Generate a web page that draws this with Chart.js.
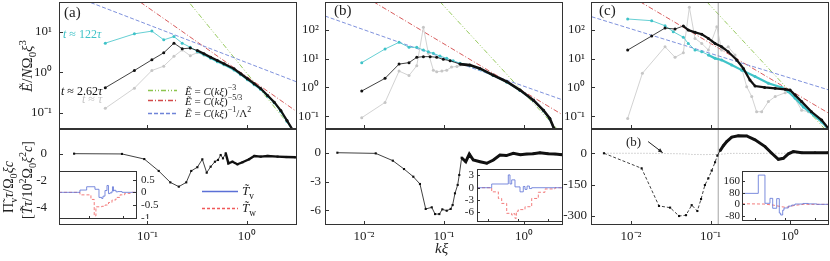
<!DOCTYPE html>
<html>
<head>
<meta charset="utf-8">
<script src="https://cdn.jsdelivr.net/npm/chart.js@4.4.0/dist/chart.umd.min.js"></script>
<style>
  body { margin:0; background:#fff; font-family:"Liberation Serif","DejaVu Serif",serif; }
  #fig { position:relative; width:830px; height:261px; overflow:hidden; }
  #fig canvas { position:absolute; }
  .lbl { position:absolute; white-space:nowrap; font-size:11px; color:#222; line-height:1; }
  .rot { position:absolute; white-space:nowrap; font-size:15px; color:#222; line-height:1; transform:translate(-50%,-50%) rotate(-90deg); }
  sub, sup { font-size:72%; line-height:0; }
</style>
</head>
<body>
<div id="fig"></div>
<script>
// spectra, panel (a)   x = k xi
var kA = [0.0377,0.074,0.111,0.146,0.185,0.224,0.27,0.318,0.371,0.433,0.506,0.59,0.745,0.869,1.016,1.186,1.38,1.62,1.89,2.2,2.54,2.9];
var EA_cyan  = [5.3,9.0,10.5,6.4,7.7,5.3,4.2,3.3,2.75,2.25,1.85,1.55,1.15,0.88,0.66,0.5,0.38,0.26,0.18,0.11,0.062,0.037];
var EA_black = [0.42,1.12,2.06,3.06,5.3,3.85,4.0,3.5,2.9,2.39,1.98,1.64,1.23,0.93,0.70,0.53,0.40,0.27,0.185,0.115,0.065,0.038];
var EA_gray  = [0.13,0.41,1.12,1.43,2.5,3.6,2.6,3.1,2.7,2.3,1.9,1.6,1.2,0.9,0.68,0.52,0.39,0.26,0.18,0.11,0.063,0.037];

// spectra, panel (b)
var kB_black = [0.00936,0.0183,0.0274,0.0365,0.0456,0.0552,0.067,0.081,0.098,0.119,0.158,0.21,0.28,0.41,0.61,0.89,1.31,1.75,2.1,2.37];
var EB_black = [0.75,2.07,6.5,7.3,11.2,11.8,11.8,11.2,9.5,8.5,6.5,6.0,4.6,2.7,1.58,0.81,0.36,0.16,0.083,0.037];
var kB_cyan = [0.00936,0.0183,0.0274,0.0365,0.0456,0.0552,0.0637,0.0735,0.089,0.108,0.13,0.158,0.21,0.28,0.41,0.61,0.89,1.31,1.75,2.1,2.37];
var EB_cyan = [7.3,21.8,37.3,25,25,20,17.5,15.4,12.4,10.3,8.5,7.0,5.8,4.4,2.6,1.5,0.78,0.35,0.155,0.08,0.036];
var kB_gray = [0.00936,0.0183,0.0274,0.0365,0.0456,0.0552,0.0637,0.0735,0.081,0.094,0.108,0.124,0.145,0.19,0.28,0.41,0.61,0.89,1.31,1.75,2.1,2.37];
var EB_gray = [0.088,0.30,3.7,2.6,5.7,124,15.4,4.0,3.5,3.7,4.0,5.1,5.4,6.0,4.5,2.65,1.55,0.8,0.35,0.16,0.08,0.036];

// spectra, panel (c)
var kC_black = [0.00908,0.0182,0.0268,0.0358,0.0455,0.0525,0.0638,0.0776,0.094,0.114,0.138,0.167,0.214,0.259,0.313,0.363,0.48,0.65,0.87,1.0,1.16,1.4,1.86,2.5,3.09];
var EC_black = [20,62,117,108,138,100,83,71,51,34,26,17.5,9.0,4.6,1.81,1.12,1.0,0.93,0.86,0.81,0.54,0.32,0.142,0.073,0.035];
var kC_cyan = [0.00908,0.0182,0.0268,0.034,0.0455,0.0525,0.0638,0.0776,0.094,0.114,0.138,0.185,0.247,0.363,0.534,0.787,0.953,1.16,1.47,1.97,2.5,3.0];
var EC_cyan = [242,211,141,87,56,34,20,17.5,13.5,10.3,9.0,6.0,4.0,2.4,1.39,1.0,0.71,0.42,0.21,0.11,0.063,0.037];
var kC_gray = [0.00908,0.0139,0.0268,0.0358,0.0455,0.0542,0.0638,0.0776,0.094,0.12,0.138,0.167,0.203,0.247,0.285,0.33,0.38,0.44,0.534,0.65,0.87,1.0,1.4,1.7,2.2,2.8];
var EC_gray = [0.083,3.1,26,11.2,16,617,51,34,20,130,20,26,13.5,4.6,1.06,0.48,0.142,0.142,0.32,0.48,0.65,0.81,0.16,0.142,0.09,0.045];
var kMark = 0.125;   // grey vertical marker in (c)

// power-law guides (end points)
var guideA_k1 = [0.0237,3.27], guideA_E1 = [60,0.57];
var guideA_k53 = [0.085,3.27], guideA_E53 = [54.4,0.103];
var guideA_k3 = [0.27,2.9],    guideA_E3 = [49.7,0.039];
var guideB_k1 = [0.00325,3.07], guideB_E1 = [307,0.364];
var guideB_k53 = [0.0131,3.07], guideB_E53 = [968,0.109];
var guideB_k3 = [0.089,2.56],   guideB_E3 = [968,0.037];
var guideC_k1 = [0.0032,3.1],  guideC_E1 = [290,0.81];
var guideC_k53 = [0.013,3.35], guideC_E53 = [968,0.109];
var guideC_k3 = [0.0896,2.7],  guideC_E3 = [968,0.037];

// flux Pi_v
var kA_pi = [0.0183,0.0555,0.093,0.13,0.17,0.207,0.246,0.276,0.318,0.357,0.395,0.433,0.478,0.513,0.546,0.576,0.614,0.653,0.717,0.805,0.905,1.055,1.19,1.38,1.62,2.04,2.5,3.1];
var PA = [0,-0.02,-0.4,-1.29,-2.14,-2.46,-2.14,-1.29,-1.01,-0.42,-1.42,-0.97,-0.6,-0.47,-0.1,-0.35,0.03,-0.72,-0.6,-0.79,-0.64,-0.42,-0.17,-0.22,-0.17,-0.22,-0.25,-0.27];
var kB_pi = [0.00464,0.014,0.0229,0.0316,0.0413,0.05,0.059,0.0702,0.0772,0.0873,0.0952,0.108,0.121,0.128,0.137,0.148,0.155,0.166,0.187,0.207,0.232,0.282,0.342,0.414,0.5,0.6,0.735,0.9,1.08,1.3,1.58,2.0,2.44,3.0];
var PB = [0,-0.07,-0.83,-1.7,-2.5,-3.26,-5.86,-5.69,-6.39,-6.39,-5.9,-6.04,-5.86,-5.45,-4.23,-3.36,-2.32,-0.52,-0.94,-0.14,-0.76,-0.94,-1.1,-0.76,-0.24,-0.3,-0.06,-0.2,-0.14,-0.1,0,-0.1,-0.14,-0.2];
var kC_pi = [0.00457,0.0136,0.0225,0.031,0.0402,0.0492,0.058,0.0683,0.076,0.085,0.0938,0.1035,0.114,0.122,0.132,0.145,0.16,0.185,0.224,0.285,0.363,0.485,0.589,0.713,0.824,0.953,1.1,1.4,2.06,3.0];
var PC = [0,-72,-252,-260,-300,-296,-248,-276,-219,-152,-120,-83,-43,-11,12,36,56,77,84,83,64,32,0,-29,-24,-3,8,3,3,3];

// insets: transfer T_v (steps) and T_w
var kIA_v = [0.0129,0.0533,0.0839,0.147,0.193,0.232,0.253,0.29,0.332,0.367,0.406,0.466,0.481,0.515,0.532,0.609,0.698,0.916,2.53];
var TIA_v = [0,0.09,0.22,0.12,-0.2,-0.24,-0.15,0.07,0.27,-0.05,-0.02,0.05,0.22,0.05,0.08,0.02,0.03,0,0];
var kIA_w = [0.0129,0.0533,0.112,0.14,0.157,0.232,0.29,0.367,0.466,0.609,0.8,1.1,1.6,2.53];
var TIA_w = [0,-0.1,-0.28,-0.93,-0.57,-0.55,-0.5,-0.4,-0.3,-0.2,-0.1,-0.04,0,0];
var kIB_v = [0.0043,0.01328,0.0475,0.0541,0.0616,0.0794,0.1166,0.15,0.171,0.2,0.24,0.286,3.16];
var TIB_v = [0,0.9,3.1,0.9,1.9,0.2,-1.0,0.3,-0.4,0.4,-0.2,0,0];
var kIB_w = [0.0043,0.01328,0.0221,0.0286,0.042,0.0616,0.0697,0.0794,0.088,0.102,0.171,0.286,0.475,0.794,1.71,3.16];
var TIB_w = [0,-1.0,-2.6,-3.8,-6.2,-6.6,-6.3,-7.4,-5.7,-5.3,-4.6,-2.6,-1.1,-0.3,0,0];
var kIC_v = [0.00369,0.0129,0.0215,0.0316,0.0389,0.0529,0.0646,0.0719,0.0838,0.0926,0.129,0.167,0.215,0.4,0.6,1.14,2.93];
var TIC_v = [75,200,7,41,-27,39,-60,-73,-40,-25,-12,-5,2,6,3,0,0];
var kIC_w = [0.00369,0.02,0.04,0.07,0.1,0.13,0.2,0.4,2.93];
var TIC_w = [4,2,-5,-15,-20,-18,-8,0,0];

// ticks
var xTicksA = [0.1,1], xTicksBC = [0.01,0.1,1];
var yTicksA = [0.1,1,10], yTicksBC = [0.1,1,10,100];
var piTicksA = [0,-2,-4], piTicksB = [0,-3,-6], piTicksC = [0,-150,-300];
var inTicksA = [0.5,0,-0.5,-1], inTicksB = [3,0,-3,-6], inTicksC = [160,80,0,-80];

var CYAN = '#3fc3c8', GRAY = '#c6c6c6', BLACK = '#111';
var GBLUE = '#6f84d8', GRED = '#d24a4a', GGREEN = '#8cc44e';
var TBLUE = '#5b70d6', TRED = '#f05a5a';

Chart.defaults.font.family = 'Liberation Serif';
var fig = document.getElementById('fig');

var SUP = {'-':'\u207B','0':'\u2070','1':'\u00B9','2':'\u00B2','3':'\u00B3'};
function decade(v) {
    var e = String(Math.round(Math.log10(v)));
    return '10' + e.split('').map(function (c) { return SUP[c]; }).join('');
}
function plain(v) { return String(v); }
function xy(k, v) { return k.map(function (x, i) { return {x: x, y: v[i]}; }); }

function series(k, v, color, style, extra) {
    var d = {data: xy(k, v), borderColor: color, backgroundColor: color, borderWidth: 0.8,
        pointRadius: 1.5, pointBorderWidth: 0, pointBackgroundColor: color, pointStyle: style || 'circle', fill: false};
    return Object.assign(d, extra || {});
}
function guide(k, v, color, dash) {
    return {data: xy(k, v), borderColor: color, borderWidth: 0.9, borderDash: dash, pointRadius: 0, fill: false};
}
function thickFrom(x0, w) {
    return {borderWidth: function (c) { return c.p0.parsed.x >= x0 ? w : undefined; }};
}
function noPad(s) { s.paddingTop = 0; s.paddingBottom = 0; s.paddingLeft = 0; s.paddingRight = 0; }

// box frame + inward ticks
var frame = {
    id: 'frame',
    beforeDraw: function (chart, args, opts) {
        if (!opts.fill) return;
        var a = chart.chartArea, ctx = chart.ctx;
        ctx.save(); ctx.fillStyle = '#fff';
        ctx.fillRect(a.left, a.top, a.right - a.left, a.bottom - a.top);
        ctx.restore();
    },
    afterDraw: function (chart, args, opts) {
        var a = chart.chartArea, ctx = chart.ctx, L = opts.tick || 4;
        ctx.save();
        ctx.strokeStyle = '#333'; ctx.lineWidth = 1;
        ctx.strokeRect(a.left + 0.5, a.top + 0.5, a.right - a.left - 1, a.bottom - a.top - 1);
        ctx.beginPath();
        var xs = chart.scales.x, ys = chart.scales.y;
        xs.ticks.forEach(function (t) {
            var p = Math.round(xs.getPixelForValue(t.value)) + 0.5;
            ctx.moveTo(p, a.bottom); ctx.lineTo(p, a.bottom - L);
        });
        var right = ys.position === 'right';
        ys.ticks.forEach(function (t) {
            var p = Math.round(ys.getPixelForValue(t.value)) + 0.5;
            var e = right ? a.right - 1 : a.left;
            ctx.moveTo(e, p); ctx.lineTo(right ? e - L : e + L, p);
        });
        ctx.stroke();
        // legend line samples
        (opts.keys || []).forEach(function (it) {
            ctx.strokeStyle = it.color; ctx.lineWidth = 1.3; ctx.setLineDash(it.dash);
            ctx.beginPath(); ctx.moveTo(it.x0, it.y + 0.5); ctx.lineTo(it.x1, it.y + 0.5); ctx.stroke();
        });
        // arrow given in data units
        if (opts.arrow) {
            var x0 = xs.getPixelForValue(opts.arrow[0]), y0 = ys.getPixelForValue(opts.arrow[1]);
            var x1 = xs.getPixelForValue(opts.arrow[2]), y1 = ys.getPixelForValue(opts.arrow[3]);
            var ang = Math.atan2(y1 - y0, x1 - x0);
            ctx.setLineDash([]); ctx.strokeStyle = '#222'; ctx.fillStyle = '#222'; ctx.lineWidth = 1;
            ctx.beginPath(); ctx.moveTo(x0, y0); ctx.lineTo(x1, y1); ctx.stroke();
            ctx.beginPath(); ctx.moveTo(x1, y1);
            ctx.lineTo(x1 - 5 * Math.cos(ang - 0.4), y1 - 5 * Math.sin(ang - 0.4));
            ctx.lineTo(x1 - 5 * Math.cos(ang + 0.4), y1 - 5 * Math.sin(ang + 0.4));
            ctx.closePath(); ctx.fill();
        }
        ctx.restore();
    }
};

function panel(o) {
    var c = document.createElement('canvas');
    var right = o.yPos === 'right';
    var w = o.box[2] - o.box[0] + o.yw, h = o.box[3] - o.box[1] + o.xh;
    c.width = w; c.height = h;
    c.style.left = (o.box[0] - (right ? 0 : o.yw)) + 'px';
    c.style.top = o.box[1] + 'px';
    c.style.width = w + 'px'; c.style.height = h + 'px';
    fig.appendChild(c);
    var fs = o.fs || 13;
    return new Chart(c, {
        type: 'line',
        data: {datasets: o.sets},
        options: {
            responsive: false, maintainAspectRatio: false, animation: false, devicePixelRatio: 1,
            layout: {padding: 0, autoPadding: false},
            elements: {line: {tension: 0}},
            plugins: {legend: {display: false}, tooltip: {enabled: false},
                frame: {fill: !!o.inset, tick: o.inset ? 3 : 4, keys: o.keys, arrow: o.arrow}},
            scales: {
                x: {type: 'logarithmic', min: o.x[0], max: o.x[1], display: o.xh > 0,
                    grid: {display: false, drawTicks: false}, border: {display: false},
                    ticks: {font: {size: fs}, color: '#222', padding: 4, maxRotation: 0, autoSkip: false, callback: decade},
                    afterBuildTicks: function (s) { s.ticks = o.xt.map(function (v) { return {value: v}; }); },
                    afterFit: function (s) { s.height = o.xh; noPad(s); }},
                y: {type: o.yLog ? 'logarithmic' : 'linear', position: right ? 'right' : 'left', min: o.y[0], max: o.y[1],
                    grid: {display: false, drawTicks: false}, border: {display: false},
                    ticks: {font: {size: fs, lineHeight: 1}, color: '#222', padding: o.yp || 6, autoSkip: false, callback: o.yLog ? decade : plain},
                    afterBuildTicks: function (s) { s.ticks = o.yt.map(function (v) { return {value: v}; }); },
                    afterFit: function (s) { s.width = o.yw; noPad(s); }}
            }
        },
        plugins: [frame]
    });
}

var D1 = [4, 2], DDOT = [5, 2, 1, 2], DDOT2 = [5, 2, 1, 2, 1, 2];

// (a) spectra
panel({box: [59, 2, 297, 129], yw: 40, xh: 0, x: [0.0129, 3.2], y: [0.0402, 55], yLog: true, xt: xTicksA, yt: yTicksA, yp: 7,
    keys: [{x0: 129, x1: 158, y: 88, color: GGREEN, dash: DDOT2}, {x0: 129, x1: 158, y: 98, color: GRED, dash: DDOT},
           {x0: 129, x1: 158, y: 111, color: GBLUE, dash: D1}],
    sets: [series(kA, EA_black, BLACK, 'circle', {segment: thickFrom(0.3, 2.2)}),
           series(kA, EA_cyan, CYAN, 'circle', {segment: thickFrom(0.3, 1.6)}),
           series(kA, EA_gray, GRAY),
           guide(guideA_k1, guideA_E1, GBLUE, D1), guide(guideA_k53, guideA_E53, GRED, DDOT), guide(guideA_k3, guideA_E3, GGREEN, DDOT2)]});
// (b) spectra
panel({box: [325, 2, 563, 129], yw: 40, xh: 0, x: [0.00325, 3.07], y: [0.0356, 946], yLog: true, xt: xTicksBC, yt: yTicksBC, yp: 6,
    sets: [series(kB_black, EB_black, BLACK, 'circle', {segment: thickFrom(0.15, 2.6)}),
           series(kB_cyan, EB_cyan, CYAN, 'circle', {segment: thickFrom(0.15, 1.6)}),
           series(kB_gray, EB_gray, GRAY),
           guide(guideB_k1, guideB_E1, GBLUE, D1), guide(guideB_k53, guideB_E53, GRED, DDOT), guide(guideB_k3, guideB_E3, GGREEN, DDOT2)]});
// (c) spectra
panel({box: [591, 2, 829, 129], yw: 40, xh: 0, x: [0.00314, 3.09], y: [0.0356, 946], yLog: true, xt: xTicksBC, yt: yTicksBC, yp: 6,
    sets: [series(kC_black, EC_black, BLACK, 'circle', {segment: thickFrom(0.045, 2.2)}),
           series(kC_cyan, EC_cyan, CYAN, 'circle', {segment: thickFrom(0.09, 2.2)}),
           series(kC_gray, EC_gray, GRAY),
           guide([kMark, kMark], [0.001, 10000], '#999', []),
           guide(guideC_k1, guideC_E1, GBLUE, D1), guide(guideC_k53, guideC_E53, GRED, DDOT), guide(guideC_k3, guideC_E3, GGREEN, DDOT2)]});

// (a) flux
panel({box: [59, 129, 297, 225], yw: 40, xh: 30, x: [0.0129, 3.2], y: [-5.32, 1.84], xt: xTicksA, yt: piTicksA, yp: 12,
    keys: [{x0: 183, x1: 219, y: 62, color: TBLUE, dash: []}, {x0: 183, x1: 219, y: 79, color: TRED, dash: [3, 2]}],
    sets: [series(kA_pi, PA, BLACK, 'rect', {segment: thickFrom(0.6, 2.4)})]});
// (b) flux
panel({box: [325, 129, 563, 225], yw: 40, xh: 30, x: [0.00325, 3.07], y: [-7.53, 2.47], xt: xTicksBC, yt: piTicksB, yp: 4,
    sets: [series(kB_pi, PB, BLACK, 'rect', {segment: thickFrom(0.16, 3)})]});
// (c) flux, with (b) for comparison
panel({box: [591, 129, 829, 225], yw: 40, xh: 30, x: [0.00314, 3.09], y: [-343, 116], xt: xTicksBC, yt: piTicksC, yp: 4,
    arrow: [0.0164, 56, 0.025, 3],
    sets: [series(kC_pi, PC, BLACK, 'rect', {segment: {
               borderDash: function (c) { return c.p1.parsed.x <= kMark ? [3, 2] : undefined; },
               borderWidth: function (c) { return c.p0.parsed.x >= 0.13 ? 3 : undefined; }}}),
           guide([kMark, kMark], [-1000, 1000], '#999', []),
           series(kB_pi, PB, '#999', 'rect', {pointRadius: 0, borderDash: [1, 2]})]});

// insets
panel({box: [59, 171, 137, 219], inset: true, yPos: 'right', yw: 26, xh: 0, fs: 11, x: [0.0129, 2.53], y: [-1.05, 0.84], xt: xTicksA, yt: inTicksA, yp: 4,
    sets: [series(kIA_v, TIA_v, TBLUE, 'circle', {pointRadius: 0, stepped: true}),
           series(kIA_w, TIA_w, TRED, 'circle', {pointRadius: 0, stepped: true, borderDash: [3, 2]})]});
panel({box: [477, 169, 563, 222], inset: true, yw: 16, xh: 0, fs: 11, x: [0.0043, 3.16], y: [-8.3, 4.53], xt: xTicksBC, yt: inTicksB, yp: 3,
    sets: [series(kIB_v, TIB_v, TBLUE, 'circle', {pointRadius: 0, stepped: true}),
           series(kIB_w, TIB_w, TRED, 'circle', {pointRadius: 0, stepped: true, borderDash: [3, 2]})]});
panel({box: [742, 171, 829, 221], inset: true, yw: 24, xh: 0, fs: 11, x: [0.00369, 2.93], y: [-114, 228], xt: xTicksBC, yt: inTicksC, yp: 2,
    sets: [series(kIC_v, TIC_v, TBLUE, 'circle', {pointRadius: 0, stepped: true}),
           series(kIC_w, TIC_w, TRED, 'circle', {pointRadius: 0, borderDash: [3, 2]})]});

// text
function label(html, left, top, style) {
    var d = document.createElement('div');
    d.className = 'lbl'; d.innerHTML = html;
    d.style.left = left + 'px'; d.style.top = top + 'px';
    if (style) d.style.cssText += style;
    fig.appendChild(d);
}
function vlabel(html, cx, cy, style) {
    var d = document.createElement('div');
    d.className = 'rot'; d.innerHTML = html;
    d.style.left = cx + 'px'; d.style.top = cy + 'px';
    if (style) d.style.cssText += style;
    fig.appendChild(d);
}
label('(a)', 64, 5, 'font-size:15px;');
label('(b)', 334, 3, 'font-size:15px;');
label('(c)', 599, 3, 'font-size:15px;');
label('<i>t</i> \u2248 122<i>\u03C4</i>', 63, 28, 'color:' + CYAN + ';font-size:12px;');
label('<i>t</i> \u2248 2.62<i>\u03C4</i>', 61, 85, 'color:' + BLACK + ';font-size:12px;');
label('<i>t</i> \u2248 <i>\u03C4</i>', 82, 93, 'color:' + GRAY + ';font-size:12px;');
label('<i>\u1EBC</i> = <i>C</i>(<i>k\u03BE</i>)<sup>\u22123</sup>', 185, 85.5);
label('<i>\u1EBC</i> = <i>C</i>(<i>k\u03BE</i>)<sup>\u22125/3</sup>', 185, 96);
label('<i>\u1EBC</i> = <i>C</i>(<i>k\u03BE</i>)<sup>\u22121</sup>/\u039B<sup>2</sup>', 185, 108);
label('<i>T\u0303</i><sub>v</sub>', 242, 184, 'font-size:13px;');
label('<i>T\u0303</i><sub>w</sub>', 242, 201, 'font-size:13px;');
label('(b)', 626, 135, 'font-size:13px;');
label('<i>k\u03BE</i>', 435, 241, 'font-size:15px;');
vlabel('<i>\u1EBC</i>/<i>N</i>\u03A9<sub>0</sub><i>\u03BE</i><sup>3</sup>', 27, 66);
vlabel('\u03A0\u0303<sub>v</sub><i>\u03C4</i>/\u03A9<sub>0</sub><i>\u03BEc</i>', 9, 187, 'font-size:14px;');
vlabel('[<i>T\u0303\u03C4</i>/10<sup>2</sup>\u03A9<sub>0</sub><i>\u03BE</i><sup>2</sup><i>c</i>]', 28, 180, 'font-size:14px;');
</script>
</body>
</html>
